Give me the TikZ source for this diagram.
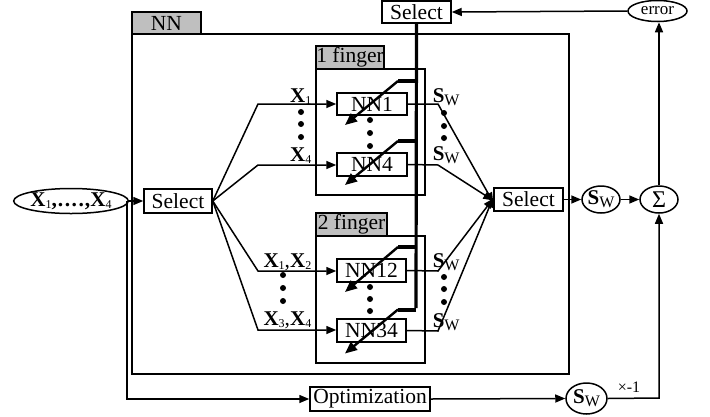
\documentclass[tikz,border=0pt]{standalone}
\usepackage{fontspec}
\setmainfont{Liberation Serif}
\usetikzlibrary{arrows.meta,shapes.geometric}

% weighted output S_W and bold input X_i
\newcommand{\swlab}{{\fontsize{21}{22}\selectfont\textbf{S}}\raisebox{-3pt}{\fontsize{16}{16}\selectfont W}}
\newcommand{\xsub}[1]{{\fontsize{21}{22}\selectfont\textbf{X}}\raisebox{-2.5pt}{\fontsize{12}{12}\selectfont #1}}

\begin{document}
\begin{tikzpicture}[x=1pt,y=-1pt,
  line width=1.5pt,
  font=\fontsize{21.5}{24}\selectfont,
  arr/.style={-{Triangle[length=10pt,width=8pt]}},
  box/.style={draw,rectangle,inner sep=0pt},
  oval/.style={draw,ellipse,inner sep=0pt},
  tab/.style={draw,fill=gray!50,inner sep=0pt},
  lab/.style={inner sep=0pt},
  adjust/.style={line width=2.4pt,-{Triangle[length=12pt,width=10pt]}},
  stub/.style={line width=4pt},
  bus/.style={line width=3.2pt},
  pt/.style={circle,fill=black,inner sep=0pt,minimum size=6pt}
]
\useasboundingbox (0,0) rectangle (710,416);

% ---- frames ----
\node[box,minimum width=437pt,minimum height=340pt] (nnbox) at (350.5,204) {};
\node[tab,minimum width=69pt,minimum height=22pt] (nntab) at (166.5,23) {NN};

\node[box,minimum width=109pt,minimum height=126pt] (f1box) at (370.5,132) {};
\node[tab,minimum width=68pt,minimum height=23pt] (f1tab) at (350,57.5) {1 finger};
\node[box,minimum width=109pt,minimum height=127pt] (f2box) at (370.5,299.5) {};
\node[tab,minimum width=71pt,minimum height=23pt] (f2tab) at (351.5,224.5) {2 finger};

% ---- blocks ----
\node[oval,minimum width=108pt,minimum height=25pt] (xin) at (71,201)
  {\xsub{1}\textbf{,\kern1pt.\kern1.5pt.\kern1.5pt.\kern1.5pt.\kern1pt,}\xsub{4}};
\node[box,minimum width=68pt,minimum height=24pt] (selL) at (178,201) {Select};
\node[box,minimum width=70pt,minimum height=22pt] (nn1) at (372,104) {NN1};
\node[box,minimum width=70pt,minimum height=23pt] (nn4) at (372,164.5) {NN4};
\node[box,minimum width=69pt,minimum height=23pt] (nn12) at (371.5,270.5) {NN12};
\node[box,minimum width=69pt,minimum height=23pt] (nn34) at (371.5,330.5) {NN34};
\node[box,minimum width=69pt,minimum height=22pt] (selT) at (416.5,12) {Select};
\node[box,minimum width=69pt,minimum height=23pt] (selR) at (528.5,199.5) {Select};
\node[oval,minimum width=38pt,minimum height=27pt] (swR) at (601,199.5) {\swlab};
\node[oval,minimum width=38pt,minimum height=27pt,font=\fontsize{24}{24}\selectfont] (sig) at (659,199.5) {Σ};
\node[oval,minimum width=59pt,minimum height=21pt,font=\fontsize{17}{18}\selectfont] (err) at (657.5,11) {error};
\node[box,minimum width=120pt,minimum height=24pt] (opt) at (370,399) {Optimization};
\node[oval,minimum width=41pt,minimum height=31pt] (swB) at (586.5,398.5) {\swlab};

% ---- input side ----
\coordinate (split) at (127,201);
\coordinate (b1) at (258,104);
\coordinate (b4) at (258,165);
\coordinate (b12) at (258,271);
\coordinate (b34) at (258,330);
\draw[arr] (xin.east) -- (selL.west);
\draw[arr] (split) |- (opt.west);
\draw[arr] (selL.east) -- (b1) -- (b1 -| nn1.west);
\draw[arr] (selL.east) -- (b4) -- (b4 -| nn4.west);
\draw[arr] (selL.east) -- (b12) -- (b12 -| nn12.west);
\draw[arr] (selL.east) -- (b34) -- (b34 -| nn34.west);

\node[lab,anchor=base east] (lx1) at (312,102) {\xsub{1}};
\node[lab,anchor=base east] (lx4) at (312,161) {\xsub{4}};
\node[lab,anchor=base east] (lx12) at (312,267) {\xsub{1},\xsub{2}};
\node[lab,anchor=base east] (lx34) at (312,325) {\xsub{3},\xsub{4}};
\foreach \y in {112,124,137} \node[pt] at (301,\y) {};
\foreach \y in {275,288,301} \node[pt] at (283,\y) {};
\foreach \y in {120,133,146} \node[pt] at (370,\y) {};
\foreach \y in {287,299,311} \node[pt] at (370,\y) {};

% ---- output side ----
\coordinate (o1) at (438,104);
\coordinate (o4) at (438,165);
\coordinate (o12) at (438,271);
\coordinate (o34) at (438,331);
\draw[arr] (nn1.east) -- (o1) -- ([yshift=-3pt]selR.west);
\draw[arr] (nn4.east) -- (o4) -- ([yshift=-1pt]selR.west);
\draw[arr] (nn12.east) -- (o12) -- ([yshift=1pt]selR.west);
\draw[arr] (nn34.east) -- (o34) -- ([yshift=2pt]selR.west);
\node[lab,anchor=base west] (sw1) at (432,102) {\swlab};
\node[lab,anchor=base west] (sw4) at (432,160) {\swlab};
\node[lab,anchor=base west] (sw12) at (432,267) {\swlab};
\node[lab,anchor=base west] (sw34) at (432,327) {\swlab};
\foreach \y in {113,126,138} \node[pt] at (444,\y) {};
\foreach \y in {277,289,302} \node[pt] at (444,\y) {};

\draw[arr] (selR.east) -- (swR.west);
\draw[arr] (swR.east) -- (sig.west);
\draw[arr] (sig.north) -- (sig.north |- err.south);
\draw[arr] (err.west) -- (selT.east);
\draw[arr] (opt.east) -- (swB.west);
\coordinate (corner) at (659,398);
\draw[arr] (swB.east) -- (corner) -- (sig.south);
\node[lab,anchor=base west,font=\fontsize{16}{17}\selectfont] (neg) at (617,392) {×-1};

% ---- weight selection bus ----
\coordinate (k1) at (416,81);
\coordinate (k4) at (416,141);
\coordinate (k12) at (416,247);
\coordinate (k34) at (416,308);
\draw[bus] (selT.south) -- (k34);
\draw[stub] (k1) -- ++(-18,0) coordinate (s1);
\draw[stub] (k4) -- ++(-18,0) coordinate (s4);
\draw[stub] (k12) -- ++(-18,0) coordinate (s12);
\draw[stub] ([yshift=-1.5pt]k34) -- ++(-18,0) coordinate (s34);
\draw[adjust] (s1) -- ++(-53,44);
\draw[adjust] (s4) -- ++(-53,44);
\draw[adjust] (s12) -- ++(-53,45);
\draw[adjust] (s34) -- ++(-53,44);
\end{tikzpicture}
\end{document}
